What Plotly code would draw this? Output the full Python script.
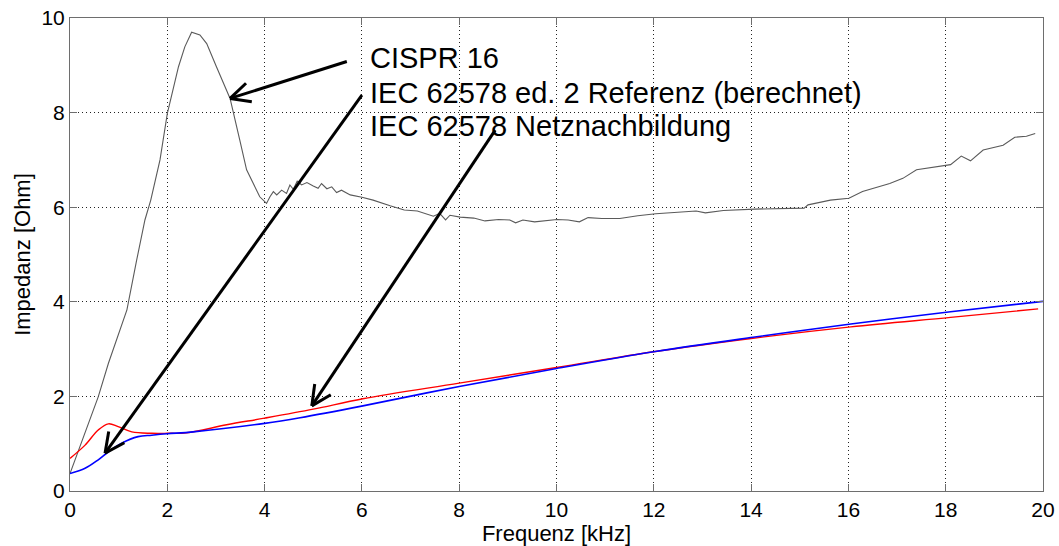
import math
import plotly.graph_objects as go

# ---- data ----
cispr_f = [0.0, 0.31, 0.58, 0.79, 0.96, 1.17, 1.37, 1.54, 1.66, 1.85, 2.0, 2.23, 2.36, 2.5, 2.67,
           2.81, 3.01,
           3.29, 3.49, 3.63, 3.9, 3.97, 4.04, 4.11, 4.18, 4.25, 4.35, 4.45, 4.52, 4.59, 4.67,
           4.76, 4.87, 5.0, 5.1, 5.17, 5.28, 5.38, 5.48, 5.58, 5.76, 6.0, 6.23, 6.58, 6.87,
           7.14, 7.47, 7.6, 7.72, 7.81, 8.02, 8.3, 8.53, 8.81, 9.04, 9.16, 9.31, 9.55, 10.01,
           10.24, 10.47, 10.65, 10.93, 11.3, 11.67, 12.04, 12.6, 12.87, 13.06, 13.43, 14.07,
           15.09, 15.17, 15.63, 16.01, 16.29, 16.85, 17.12, 17.4, 17.77, 18.1, 18.32, 18.51,
           18.77, 19.18, 19.42, 19.66, 19.84]
cispr_z = [0.37, 1.22, 1.99, 2.70, 3.19, 3.83, 4.88, 5.73, 6.15, 7.0, 7.98, 8.97, 9.39, 9.7, 9.64,
           9.46, 8.97,
           8.3, 7.42, 6.79, 6.22, 6.15, 6.08, 6.22, 6.33, 6.26, 6.36, 6.29, 6.47, 6.38, 6.55,
           6.47, 6.52, 6.45, 6.40, 6.5, 6.39, 6.43, 6.31, 6.36, 6.26, 6.21, 6.15, 6.03, 5.94,
           5.92, 5.81, 5.87, 5.73, 5.83, 5.79, 5.77, 5.71, 5.74, 5.73, 5.67, 5.73, 5.69, 5.74,
           5.73, 5.69, 5.78, 5.76, 5.76, 5.82, 5.86, 5.89, 5.92, 5.88, 5.93, 5.96,
           5.98, 6.05, 6.15, 6.19, 6.33, 6.5, 6.61, 6.79, 6.84, 6.9, 7.08, 6.98,
           7.21, 7.31, 7.48, 7.5, 7.56]

ref_f = [0.0, 0.31, 0.58, 0.79, 0.99, 1.27, 1.68, 2.0, 2.4, 3.22, 4.0, 5.0, 6.02, 8.0,
         10.0, 12.03, 14.04, 16.05, 18.1, 19.9]
ref_z = [0.69, 0.97, 1.29, 1.42, 1.36, 1.25, 1.22, 1.22, 1.23, 1.40, 1.54, 1.73, 1.95, 2.28,
         2.61, 2.95, 3.23, 3.47, 3.67, 3.85]

lisn_f = [0.0, 0.31, 0.58, 0.79, 1.06, 1.4, 1.68, 2.0, 2.53, 4.0, 4.73, 6.02, 8.0, 10.0, 12.03,
          14.04, 16.05, 18.1, 20.0]
lisn_z = [0.37, 0.48, 0.66, 0.83, 1.01, 1.15, 1.18, 1.21, 1.25, 1.43, 1.55, 1.80, 2.21, 2.59, 2.95,
          3.25, 3.53, 3.79, 4.01]

x_ticks = [0, 2, 4, 6, 8, 10, 12, 14, 16, 18, 20]
y_ticks = [0, 2, 4, 6, 8, 10]

labels = ["CISPR 16", "IEC 62578 ed. 2 Referenz (berechnet)", "IEC 62578 Netznachbildung"]
# arrows: (tail_f, tail_z, tip_f, tip_z)
arrows = [(5.69, 9.08, 3.29, 8.30),
          (6.0, 8.37, 0.72, 0.80),
          (8.74, 7.63, 4.97, 1.80)]

# ---- layout geometry ----
W, H = 1059, 546
ML, MR, MT, MB = 70, 16, 18, 55
PW, PH = W - ML - MR, H - MT - MB
XR, YR = [0, 20], [0, 10]
sx = PW / (XR[1] - XR[0])
sy = PH / (YR[1] - YR[0])

fig = go.Figure()
fig.add_trace(go.Scatter(x=cispr_f, y=cispr_z, mode="lines",
                         line=dict(color="#5a5a5a", width=1.1), name=labels[0]))
fig.add_trace(go.Scatter(x=ref_f, y=ref_z, mode="lines", line_shape="spline",
                         line=dict(color="#ff0000", width=1.4), name=labels[1]))
fig.add_trace(go.Scatter(x=lisn_f, y=lisn_z, mode="lines", line_shape="spline",
                         line=dict(color="#0000ff", width=1.6), name=labels[2]))

shapes = []
head_len, half_ang = 22.0, math.radians(26)
for tf, tz, hf, hz in arrows:
    shapes.append(dict(type="line", xref="x", yref="y", x0=tf, y0=tz, x1=hf, y1=hz,
                       line=dict(color="black", width=3)))
    dx = (tf - hf) * sx
    dy = (tz - hz) * sy
    ang = math.atan2(dy, dx)
    for s in (-1, 1):
        a = ang + s * half_ang
        ex = hf + head_len * math.cos(a) / sx
        ey = hz + head_len * math.sin(a) / sy
        shapes.append(dict(type="line", xref="x", yref="y", x0=hf, y0=hz, x1=ex, y1=ey,
                           line=dict(color="black", width=3)))

annotations = []
line_px = [58.5, 92.5, 126]
for txt, py in zip(labels, line_px):
    annotations.append(dict(text=txt, xref="paper", yref="paper",
                            x=(368 - ML) / PW, y=(H - MB - py) / PH,
                            xanchor="left", yanchor="middle", showarrow=False,
                            font=dict(family="Liberation Sans, Arial", size=29, color="black")))

axis_common = dict(showline=True, linecolor="#6e6e6e", linewidth=1,
                   ticks="inside", ticklen=7, tickcolor="#6e6e6e",
                   showgrid=True, gridcolor="#222222", griddash="1px,3px", gridwidth=1,
                   zeroline=False, automargin=False,
                   tickfont=dict(family="Liberation Sans, Arial", size=21, color="black"),
                   title_font=dict(family="Liberation Sans, Arial", size=22, color="black"))

fig.update_layout(
    width=W, height=H,
    margin=dict(l=ML, r=MR, t=MT, b=MB, pad=0),
    paper_bgcolor="white", plot_bgcolor="white",
    showlegend=False,
    shapes=shapes, annotations=annotations,
    xaxis=dict(range=XR, tickvals=x_ticks, ticktext=[str(v) for v in x_ticks],
               mirror="ticks", title=dict(text="Frequenz [kHz]", standoff=2), **axis_common),
    yaxis=dict(range=YR, tickvals=y_ticks, ticktext=[str(v) for v in y_ticks],
               mirror="ticks", title=dict(text="Impedanz [Ohm]", standoff=4), **axis_common),
)

fig.write_html("out.html")
